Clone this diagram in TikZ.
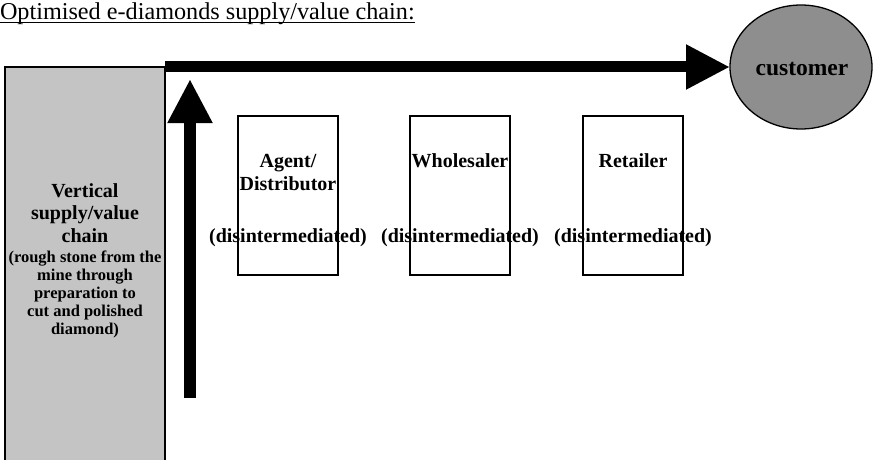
\documentclass[tikz,border=0pt]{standalone}
\usepackage{fontspec}
\setmainfont{Liberation Serif}
\usetikzlibrary{arrows.meta,shapes.geometric}
\definecolor{boxgray}{HTML}{C4C4C4}
\definecolor{ovalgray}{HTML}{8E8E8E}
\begin{document}
\begin{tikzpicture}[x=1pt,y=-1pt,
  every node/.style={inner sep=0pt,outer sep=0pt},
  bigtxt/.style={font=\fontsize{20}{23}\selectfont\bfseries,anchor=base},
  smalltxt/.style={font=\fontsize{16.5}{18}\selectfont\bfseries,anchor=base},
  stage/.style={draw,line width=1.5pt,minimum width=100pt,minimum height=159pt,anchor=north west},
  fatarrow/.style={line width=12pt,-{Triangle[length=44pt,width=42pt]}}]
\useasboundingbox (0,0) rectangle (878,460);

% heading
\node[anchor=base west,font=\fontsize{24.2}{28}\selectfont] (title) at (0,19.5) {Optimised e-diamonds supply/value chain:};
\draw[line width=1.2pt] ([yshift=-3pt]title.base west) -- ([yshift=-3pt]title.base east);

% vertical chain column
\node[draw,line width=1.5pt,fill=boxgray,anchor=north west,minimum width=160pt,minimum height=420pt] (vchain) at (5,67) {};
\node[bigtxt] (v1) at (85,197) {Vertical};
\node[bigtxt] (v2) at (85,219) {supply/value};
\node[bigtxt] (v3) at (85,242) {chain};
\node[smalltxt] (v4) at (85,262) {(rough stone from the};
\node[smalltxt] (v5) at (85,280) {mine through};
\node[smalltxt] (v6) at (85,298) {preparation to};
\node[smalltxt] (v7) at (85,316) {cut and polished};
\node[smalltxt] (v8) at (85,334) {diamond)};

% intermediaries
\node[stage] (agent) at (238,116) {};
\node[stage] (whole) at (410,116) {};
\node[stage] (retail) at (583,116) {};
\foreach \b in {agent,whole,retail}
  \node[bigtxt] (\b-d) at ([yshift=-126pt]\b.north) {(disintermediated)};
\node[bigtxt] (agent-a) at ([yshift=-51pt]agent.north) {Agent/};
\node[bigtxt] (agent-b) at ([yshift=-74pt]agent.north) {Distributor};
\node[bigtxt] (whole-a) at ([yshift=-51pt]whole.north) {Wholesaler};
\node[bigtxt] (retail-a) at ([yshift=-51pt]retail.north) {Retailer};

% customer
\node[ellipse,draw,line width=1.3pt,fill=ovalgray,minimum width=142pt,minimum height=124pt] (cust) at (801,67) {};
\node[bigtxt,font=\fontsize{23.5}{26}\selectfont\bfseries] (custtxt) at (802,75) {customer};

% flows
\coordinate (up-start) at (190,398);
\coordinate (up-end) at (190,79);
\draw[fatarrow] (up-start) -- (up-end);
\draw[line width=11pt,-{Triangle[length=44pt,width=42pt]}] (vchain.north east) -- (cust.west);
\end{tikzpicture}
\end{document}
